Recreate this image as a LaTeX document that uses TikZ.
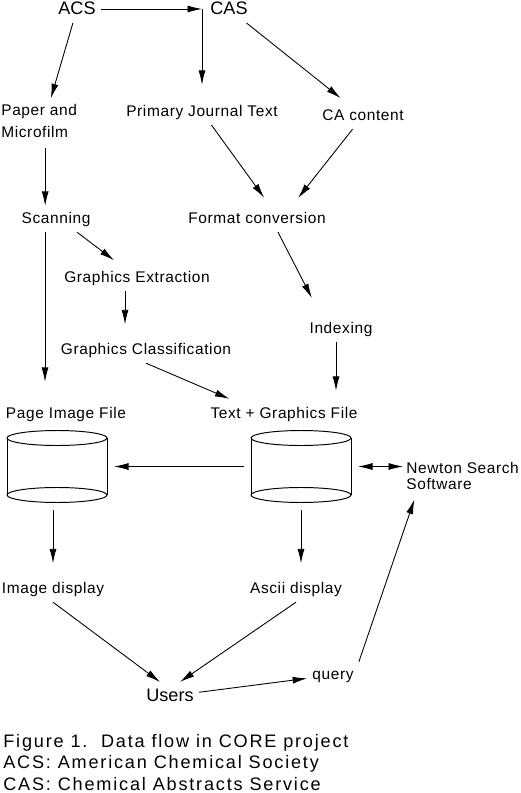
\documentclass[tikz,border=0pt]{standalone}
\usepackage{fontspec}
\setmainfont{Liberation Sans}
\newfontfamily\lblfont[LetterSpace=4]{Liberation Sans}
\newfontfamily\capfont[LetterSpace=10]{Liberation Sans}
\usetikzlibrary{arrows.meta, positioning, calc}

\begin{document}
\begin{tikzpicture}[
  x=0.02cm, y=-0.02cm,
  lbl/.style={font=\lblfont\fontsize{8.8}{12.5}\selectfont, inner sep=2pt, outer sep=1pt,
              text height=7pt, text depth=2pt},
  big/.style={font=\fontsize{10.3}{12}\selectfont, inner sep=2pt, outer sep=1pt,
              text height=8pt, text depth=2pt},
  twoline/.style={font=\lblfont\fontsize{8.8}{#1}\selectfont, align=left,
                  inner sep=0pt, anchor=north west},
  dbbox/.style={minimum width=2cm, minimum height=1.46cm, inner sep=0pt, outer sep=4pt},
  db/.style={line width=0.55pt},
  arr/.style={line width=0.5pt, -{Latex[length=2.9mm,width=1.4mm]}},
  twoway/.style={line width=0.5pt, {Latex[length=2.9mm,width=1.4mm]}-{Latex[length=2.9mm,width=1.4mm]}},
  gap/.style={shorten >=#1}
]
\useasboundingbox (0,0) rectangle (520,793);

% sources
\node[big] (acs) at (77,9)  {ACS};
\node[big] (cas) at (229,9) {CAS};

\node[twoline=12.5pt] (paper) at (1,104) {Paper and\\Microfilm};
\node[lbl] (pjt)  at (202,112) {Primary Journal Text};
\node[lbl] (caco) at (363,116) {CA content};

% processing
\node[lbl] (scan) at (56,219)  {Scanning};
\node[lbl] (fmt)  at (257,219) {Format conversion};
\node[lbl] (gext) at (137,278) {Graphics Extraction};
\node[lbl] (idx)  at (341,329) {Indexing};
\node[lbl] (gcl)  at (146,350) {Graphics Classification};

% files
\node[lbl] (pifl) at (66,414)  {Page Image File};
\node[lbl] (tgfl) at (284,414) {Text + Graphics File};
\node[dbbox] (pif) at (57,466.5)  {};
\node[dbbox] (tgf) at (301,466.5) {};
\node[twoline=9.1pt] (newton) at (406,462) {Newton Search\\Software};

\foreach \db in {pif,tgf} {
  \draw[db] ([yshift=0.57cm]\db.center) ellipse [x radius=1cm, y radius=0.15cm];
  \draw[db] ([yshift=-0.57cm]\db.center) ellipse [x radius=1cm, y radius=0.15cm];
  \draw[db] ([shift={(-1cm,0.57cm)}]\db.center) -- ([shift={(-1cm,-0.57cm)}]\db.center)
            ([shift={(1cm,0.57cm)}]\db.center) -- ([shift={(1cm,-0.57cm)}]\db.center);
}

% output
\node[lbl] (imgd)  at (53,589)  {Image display};
\node[lbl] (ascd)  at (296,589) {Ascii display};
\node[big] (users) at (170,696) {Users};
\node[lbl] (query) at (333,675) {query};

\node[font=\capfont\fontsize{10.3}{12.2}\selectfont, align=left, inner sep=0pt,
      anchor=north west] (cap) at (3,734)
  {Figure 1.\ \ Data flow in CORE project\\ACS: American Chemical Society\\CAS: Chemical Abstracts Service};

% connectors
\coordinate (corner) at (pjt.north |- acs.east);
\draw[arr] (acs) -- (corner);
\draw[arr, gap=0.28cm] (corner) -- (pjt.north);
\draw[arr, gap=0.15cm] (cas) -- (caco);
\draw[arr, gap=0.12cm] (acs) -- ([xshift=0.2cm]paper.north);
\draw[arr, gap=0.2cm] (pjt) -- ([xshift=0.26cm]fmt.north);
\draw[arr, gap=0.2cm] (caco) -- ([xshift=0.7cm]fmt.north);
\draw[arr, shorten <=0.2cm] ($(paper.south)+(6,0)$) -- ($(paper.south |- scan.north)+(6,0)$);
\draw[arr, gap=0.15cm] ([xshift=0.42cm]scan.south) -- ([xshift=-0.34cm]gext.north);
\draw[arr, gap=0.38cm] ($(scan.south)+(-11,0)$) -- ($(scan.south |- pifl.north)+(-11,0)$);
\draw[arr, gap=0.4cm] ([xshift=0.42cm]fmt.south) -- ([xshift=-0.4cm]idx.north);
\draw[arr, gap=0.25cm] ($(gext.south)+(-12,0)$) -- ($(gext.south |- gcl.north)+(-12,0)$);
\draw[arr, gap=0.1cm] (gcl.south) -- ([xshift=-1cm]tgfl.north);
\draw[arr, gap=0.2cm] ($(idx.south)+(-5,0)$) -- ($(idx.south |- tgfl.north)+(-5,0)$);
\draw[arr] (tgf.west) -- (pif.east);
\draw[twoway, shorten >=0.06cm] (tgf.east) -- (tgf.east -| newton.west);
\draw[arr, gap=0.25cm] (imgd.north |- pif.south) -- (imgd.north);
\draw[arr, gap=0.25cm] (tgf.south) -- (tgf.south |- ascd.north);
\draw[arr] (imgd.south) -- ([xshift=-0.2cm]users.north);
\draw[arr] (ascd.south) -- ([xshift=0.2cm]users.north);
\draw[arr] (users) -- (query);
\draw[arr, gap=0.2cm] (query.north east) -- ([xshift=-0.9cm]newton.south);
\end{tikzpicture}
\end{document}
